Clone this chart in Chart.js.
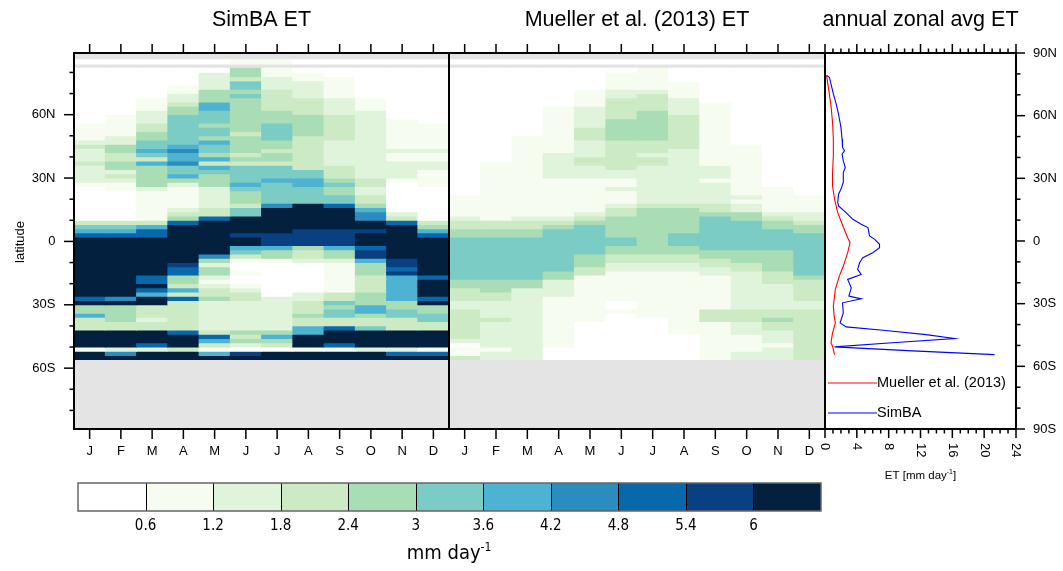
<!DOCTYPE html>
<html>
<head>
<meta charset="utf-8">
<title>SimBA ET vs Mueller et al. (2013) ET</title>
<script src="https://cdn.jsdelivr.net/npm/chart.js@4.4.1/dist/chart.umd.min.js"></script>
<style>
  html, body { margin: 0; padding: 0; background: #fff; }
  #fig { position: relative; width: 1063px; height: 571px; }
  #fig canvas { position: absolute; left: 0; top: 0; }
</style>
</head>
<body>
<div id="fig">
  <canvas id="simba" width="1063" height="571"></canvas>
  <canvas id="mueller" width="1063" height="571"></canvas>
  <canvas id="zonal" width="1063" height="571"></canvas>
  <canvas id="colorbar" width="1063" height="571"></canvas>
</div>
<script>
// ET maps (mm/day) per month and 2-degree latitude row, plus annual zonal means

const FONT = '"Liberation Sans", Arial, sans-serif';
const NARROW = '"Liberation Sans Narrow", "DejaVu Sans Condensed", sans-serif';
const W = 1063, H = 571;

const months = ['J', 'F', 'M', 'A', 'M', 'J', 'J', 'A', 'S', 'O', 'N', 'D'];

// northern edge of each latitude row (rows are 2 degrees tall)
const latNorth = [86, 84, 82, 80, 78, 76, 74, 72, 70, 68, 66, 64, 62, 60, 58, 56, 54, 52, 50, 48,
  46, 44, 42, 40, 38, 36, 34, 32, 30, 28, 26, 24, 22, 20, 18, 16, 14, 12, 10, 8, 6, 4, 2, 0,
  -2, -4, -6, -8, -10, -12, -14, -16, -18, -20, -22, -24, -26, -28, -30, -32, -34, -36, -38,
  -40, -42, -44, -46, -48, -50, -52, -54];

const levels = [0.6, 1.2, 1.8, 2.4, 3, 3.6, 4.2, 4.8, 5.4, 6];
const palette = ['#ffffff', '#f7fcf0', '#e0f3db', '#ccebc5', '#a8ddb5', '#7bccc4',
  '#4eb3d3', '#2b8cbe', '#0868ac', '#084081', '#03203f'];

// SimBA ET, one list per month, rows from 86N to 56S (null = no data)
const simbaET = [
  [0.3, null, 0.3, 0.3, 0.3, 0.3, 0.3, 0.3, 0.3, 0.3, 0.3, 0.3, 0.3, 0.3, 0.3,
   0.9, 0.9, 0.9, 0.9, 1.5, 2.1, 1.5, 1.5, 1.5, 2.1, 1.5, 1.5, 1.5, 1.5, 0.9,
   0.3, 0.3, 0.3, 0.3, 0.3, 0.3, 0.3, 0.3, 2.1, 3.3, 3.9, 5.1, 7,
   7, 7, 7, 7, 7, 7, 7, 7, 7, 7, 7, 7, 7,
   5.1, 7, 2.7, 2.7, 3.9, 2.1, 2.1, 2.1, 7, 7, 7, 7, 0.9, 7, 7],
  [0.3, null, 0.3, 0.3, 0.3, 0.3, 0.3, 0.3, 0.3, 0.3, 0.3, 0.3, 0.3, 0.9, 0.9,
   0.9, 0.9, 0.9, 1.5, 1.5, 2.7, 2.7, 2.1, 2.1, 2.7, 2.7, 1.5, 2.1, 1.5, 0.9,
   0.9, 0.3, 0.3, 0.3, 0.3, 0.3, 0.3, 0.3, 2.1, 3.3, 3.9, 5.1, 7,
   7, 7, 7, 7, 7, 7, 7, 7, 7, 7, 7, 7, 7,
   4.5, 7, 2.7, 2.7, 2.7, 2.7, 2.1, 2.1, 7, 7, 7, 7, 1.5, 4.5, 7],
  [0.3, null, 0.3, 0.3, 0.3, 0.3, 0.3, 0.3, 0.3, 0.9, 0.9, 0.9, 1.5, 1.5, 1.5,
   2.1, 2.1, 2.7, 2.7, 3.3, 3.3, 3.9, 3.3, 2.1, 3.9, 2.7, 2.7, 2.7, 2.7, 2.7,
   1.5, 0.9, 0.9, 0.9, 0.9, 0.9, 0.9, 0.9, 2.1, 3.9, 5.1, 5.1, 7,
   7, 7, 7, 7, 7, 7, 7, 7, 5.1, 5.1, 7, 5.1, 3.9,
   7, 7, 2.1, 2.1, 2.1, 1.5, 2.1, 2.1, 7, 7, 7, 5.1, 1.5, 7, 7],
  [0.3, null, 0.3, 0.3, 0.3, 0.3, 0.9, 0.9, 1.5, 1.5, 2.1, 2.7, 2.7, 3.3, 3.3,
   3.3, 3.3, 3.3, 3.3, 3.3, 3.9, 4.5, 3.9, 3.9, 4.5, 3.3, 3.3, 3.9, 2.7, 1.5,
   0.9, 0.9, 0.9, 0.9, 0.9, 1.5, 2.1, 2.7, 5.1, 7, 7, 7, 7,
   7, 7, 7, 7, 7, 5.7, 5.1, 5.1, 2.7, 2.7, 2.1, 3.9, 2.1,
   5.1, 2.1, 2.1, 2.1, 2.1, 2.1, 2.1, 2.1, 5.1, 7, 7, 7, 2.1, 7, 7],
  [0.3, null, 0.3, 1.5, 1.5, 1.5, 1.5, 2.7, 2.7, 2.7, 3.9, 3.9, 3.3, 3.3, 3.3,
   2.7, 3.3, 3.3, 2.7, 3.9, 3.3, 3.3, 2.7, 3.9, 2.1, 3.9, 3.3, 2.7, 2.7, 2.7,
   1.5, 1.5, 1.5, 1.5, 1.5, 2.1, 2.1, 5.1, 7, 7, 7, 7, 7,
   7, 7, 7, 4.5, 2.7, 1.5, 2.7, 2.7, 1.5, 0.9, 1.5, 2.1, 2.1,
   2.7, 1.5, 1.5, 1.5, 1.5, 1.5, 1.5, 1.5, 2.1, 5.1, 3.9, 2.1, 0.9, 3.9, 7],
  [0.9, null, 2.7, 2.7, 2.1, 3.3, 3.3, 2.7, 3.3, 2.7, 2.7, 2.7, 2.7, 2.7, 2.7,
   2.7, 2.7, 2.1, 2.7, 2.7, 2.7, 2.7, 2.1, 2.7, 2.1, 3.3, 3.3, 3.3, 3.3, 3.9,
   3.3, 2.7, 2.7, 2.7, 2.1, 3.3, 3.3, 7, 7, 7, 7, 5.7, 7,
   7, 3.9, 3.3, 2.1, 0.9, 0.3, 0.3, 0.9, 0.3, 0.3, 0.9, 1.5, 2.1,
   2.1, 1.5, 1.5, 1.5, 1.5, 1.5, 1.5, 1.5, 2.7, 2.1, 2.7, 1.5, 0.3, 5.7, 7],
  [0.9, null, 0.9, 0.9, 1.5, 1.5, 1.5, 2.1, 2.1, 2.1, 2.1, 2.1, 2.7, 2.7, 2.7,
   3.3, 3.3, 3.3, 3.3, 2.7, 2.7, 2.1, 2.7, 2.7, 2.1, 3.3, 3.3, 3.3, 3.9, 3.3,
   3.3, 3.3, 3.3, 3.3, 4.5, 7, 7, 7, 7, 7, 7, 5.7, 5.7,
   5.7, 3.9, 2.7, 2.7, 0.9, 0.3, 0.3, 0.3, 0.3, 0.3, 0.3, 0.3, 0.3,
   1.5, 1.5, 1.5, 1.5, 1.5, 1.5, 1.5, 1.5, 2.7, 3.9, 2.7, 2.1, 0.3, 7, 7],
  [0.3, null, 0.3, 0.9, 0.9, 1.5, 1.5, 1.5, 1.5, 2.1, 2.1, 2.1, 2.1, 2.7, 2.7,
   2.7, 2.7, 2.7, 2.1, 2.1, 2.1, 2.1, 2.1, 2.1, 2.1, 2.1, 3.3, 3.3, 3.9, 3.9,
   3.3, 3.3, 3.3, 3.3, 7, 7, 7, 7, 7, 7, 5.7, 5.7, 5.7,
   5.7, 2.7, 2.1, 2.1, 1.5, 0.3, 0.3, 0.3, 0.3, 0.3, 0.3, 0.3, 1.5,
   1.5, 2.1, 2.1, 2.1, 2.7, 2.1, 2.1, 3.9, 3.9, 7, 7, 7, 0.9, 7, 7],
  [0.3, null, 0.3, 0.3, 0.9, 0.9, 0.9, 0.9, 0.9, 1.5, 1.5, 1.5, 1.5, 2.1, 2.1,
   2.1, 2.1, 2.1, 2.1, 1.5, 1.5, 1.5, 1.5, 1.5, 1.5, 2.1, 2.1, 2.1, 2.7, 3.3,
   2.7, 2.7, 3.3, 3.3, 5.1, 7, 7, 7, 7, 7, 5.7, 5.7, 5.7,
   5.7, 3.9, 2.7, 2.7, 1.5, 0.9, 0.9, 0.9, 0.9, 0.9, 0.9, 0.9, 2.1,
   2.1, 3.3, 2.7, 3.3, 3.3, 2.1, 2.1, 5.1, 7, 7, 7, 5.1, 0.9, 7, 7],
  [0.3, null, 0.3, 0.3, 0.3, 0.3, 0.3, 0.3, 0.3, 0.9, 0.9, 0.9, 1.5, 1.5, 1.5,
   1.5, 1.5, 1.5, 1.5, 1.5, 1.5, 1.5, 1.5, 1.5, 1.5, 1.5, 1.5, 1.5, 2.1, 2.1,
   1.5, 1.5, 2.1, 2.1, 2.7, 3.9, 4.5, 4.5, 7, 7, 5.7, 7, 7,
   7, 5.1, 5.7, 5.7, 3.9, 2.7, 2.7, 2.7, 2.1, 2.1, 2.1, 2.1, 2.7,
   2.7, 2.7, 3.9, 3.9, 2.7, 2.1, 2.1, 3.3, 7, 7, 7, 7, 1.5, 7, 7],
  [0.3, null, 0.3, 0.3, 0.3, 0.3, 0.3, 0.3, 0.3, 0.3, 0.3, 0.3, 0.3, 0.3, 0.9,
   0.9, 0.9, 0.9, 0.9, 0.9, 0.9, 1.5, 0.9, 0.9, 1.5, 1.5, 1.5, 1.5, 0.9, 0.3,
   0.3, 0.3, 0.3, 0.3, 0.3, 0.3, 1.5, 2.1, 5.1, 7, 7, 7, 7,
   7, 7, 7, 7, 5.7, 5.7, 5.1, 5.7, 3.9, 3.9, 3.9, 3.9, 3.9,
   3.9, 2.7, 2.7, 3.3, 3.3, 2.1, 2.1, 2.1, 7, 7, 7, 7, 1.5, 5.1, 7],
  [0.3, null, 0.3, 0.3, 0.3, 0.3, 0.3, 0.3, 0.3, 0.3, 0.3, 0.3, 0.3, 0.3, 0.3,
   0.9, 0.9, 0.9, 0.9, 0.9, 0.9, 1.5, 0.9, 0.9, 1.5, 1.5, 0.9, 0.9, 0.9, 0.9,
   0.3, 0.3, 0.3, 0.3, 0.3, 0.3, 0.3, 0.3, 2.1, 2.7, 3.9, 5.1, 7,
   7, 7, 7, 7, 7, 7, 7, 7, 5.1, 7, 7, 7, 7,
   5.1, 7, 2.7, 2.7, 3.3, 3.3, 2.1, 2.1, 7, 7, 7, 7, 0.9, 5.1, 7]
];

// Mueller et al. (2013) ET, same layout
const muellerET = [
  [0.3, null, 0.3, 0.3, 0.3, 0.3, 0.3, 0.3, 0.3, 0.3, 0.3, 0.3, 0.3, 0.3, 0.3,
   0.3, 0.3, 0.3, 0.3, 0.3, 0.3, 0.3, 0.3, 0.3, 0.3, 0.3, 0.3, 0.3, 0.3, 0.3,
   0.3, 0.3, 0.9, 0.9, 0.9, 0.9, 0.9, 1.5, 2.1, 2.1, 2.7, 2.7, 3.3,
   3.3, 3.3, 3.3, 3.3, 3.3, 3.3, 3.3, 3.3, 3.3, 2.7, 2.7, 2.1, 2.1,
   2.1, 1.5, 1.5, 2.1, 2.1, 2.1, 2.1, 2.1, 2.1, 2.1, 1.5, 0.3, 0.9, 0.9, 2.1],
  [0.3, null, 0.3, 0.3, 0.3, 0.3, 0.3, 0.3, 0.3, 0.3, 0.3, 0.3, 0.3, 0.3, 0.3,
   0.3, 0.3, 0.3, 0.3, 0.3, 0.3, 0.3, 0.3, 0.3, 0.9, 0.9, 0.9, 0.9, 0.9, 0.9,
   0.9, 0.9, 0.9, 0.9, 0.9, 0.9, 0.9, 0.9, 2.1, 2.1, 2.7, 2.7, 3.3,
   3.3, 3.3, 3.3, 3.3, 3.3, 3.3, 3.3, 3.3, 3.3, 2.7, 2.7, 2.7, 2.1,
   2.1, 1.5, 1.5, 1.5, 1.5, 2.1, 1.5, 1.5, 1.5, 1.5, 1.5, 1.5, 0.9, 1.5, 1.5],
  [0.3, null, 0.3, 0.3, 0.3, 0.3, 0.3, 0.3, 0.3, 0.3, 0.3, 0.3, 0.3, 0.3, 0.3,
   0.3, 0.3, 0.3, 0.9, 0.9, 0.9, 0.9, 0.9, 0.9, 0.9, 0.9, 0.9, 0.9, 0.9, 0.9,
   0.9, 0.9, 0.9, 0.9, 0.9, 0.9, 0.9, 1.5, 2.1, 2.1, 2.7, 2.7, 3.3,
   3.3, 3.3, 3.3, 3.3, 3.3, 3.3, 3.3, 3.3, 3.3, 2.7, 2.7, 1.5, 1.5,
   1.5, 1.5, 1.5, 1.5, 1.5, 1.5, 1.5, 1.5, 1.5, 1.5, 1.5, 1.5, 1.5, 1.5, 1.5],
  [0.3, null, 0.3, 0.3, 0.3, 0.3, 0.3, 0.3, 0.3, 0.3, 0.3, 0.9, 0.9, 0.9, 0.9,
   0.9, 0.9, 0.9, 0.9, 0.9, 0.9, 0.9, 1.5, 1.5, 1.5, 1.5, 1.5, 1.5, 0.9, 0.9,
   0.9, 0.9, 0.9, 0.9, 0.9, 0.9, 0.9, 1.5, 2.1, 2.7, 3.3, 3.3, 3.3,
   3.3, 3.3, 3.3, 3.3, 3.3, 3.3, 3.3, 2.7, 2.7, 1.5, 1.5, 1.5, 1.5,
   0.9, 0.9, 0.9, 0.9, 0.9, 0.9, 0.9, 0.9, 0.9, 0.9, 0.9, 0.9, 0.3, 0.3, 0.3],
  [0.3, null, 0.3, 0.3, 0.3, 0.3, 0.3, 0.9, 0.9, 0.9, 0.9, 1.5, 1.5, 1.5, 1.5,
   1.5, 2.1, 2.1, 2.1, 1.5, 1.5, 1.5, 1.5, 2.1, 2.1, 1.5, 1.5, 1.5, 0.9, 0.9,
   0.9, 0.9, 0.9, 0.9, 0.9, 0.9, 1.5, 2.1, 2.7, 3.3, 3.3, 3.3, 3.3,
   3.3, 3.3, 3.3, 2.7, 2.7, 2.7, 2.1, 2.1, 0.9, 0.9, 0.9, 0.9, 0.9,
   0.9, 0.9, 0.9, 0.9, 0.9, 0.9, 0.3, 0.3, 0.3, 0.3, 0.3, 0.3, 0.3, 0.3, 0.3],
  [0.3, null, 0.3, 0.9, 0.9, 0.9, 0.9, 1.5, 1.5, 2.1, 2.1, 2.1, 2.1, 2.1, 2.7,
   2.7, 2.7, 2.7, 2.7, 2.1, 2.1, 2.1, 2.1, 2.1, 2.1, 2.1, 1.5, 1.5, 0.9, 0.9,
   1.5, 0.9, 0.9, 0.9, 1.5, 2.1, 2.1, 2.7, 2.7, 2.7, 2.7, 2.7, 3.3,
   3.3, 2.7, 2.7, 2.1, 2.1, 1.5, 1.5, 0.9, 0.9, 0.9, 0.9, 0.9, 0.9,
   0.9, 0.3, 0.3, 0.9, 0.3, 0.3, 0.3, 0.3, 0.3, 0.3, 0.3, 0.3, 0.3, 0.3, 0.3],
  [0.3, null, 0.9, 0.9, 0.9, 0.9, 0.9, 1.5, 2.1, 2.1, 2.1, 2.1, 2.7, 2.7, 2.7,
   2.7, 2.7, 2.7, 2.7, 2.1, 2.1, 2.1, 1.5, 2.1, 2.1, 1.5, 1.5, 1.5, 1.5, 1.5,
   1.5, 1.5, 1.5, 1.5, 2.1, 2.7, 2.7, 2.7, 2.7, 2.7, 2.7, 2.7, 2.7,
   2.7, 2.7, 2.7, 2.1, 2.1, 1.5, 1.5, 0.9, 0.9, 0.9, 0.9, 0.9, 0.9,
   0.9, 0.9, 0.9, 0.9, 0.9, 0.3, 0.3, 0.3, 0.3, 0.3, 0.3, 0.3, 0.3, 0.3, 0.3],
  [0.3, null, 0.3, 0.3, 0.3, 0.9, 0.9, 0.9, 0.9, 1.5, 1.5, 1.5, 1.5, 2.1, 2.1,
   2.1, 2.1, 2.1, 2.1, 2.1, 2.1, 1.5, 1.5, 1.5, 1.5, 1.5, 1.5, 1.5, 1.5, 1.5,
   1.5, 1.5, 1.5, 1.5, 2.1, 2.7, 2.7, 2.7, 2.7, 2.7, 2.7, 3.3, 3.3,
   3.3, 2.7, 2.7, 2.1, 2.1, 1.5, 1.5, 0.9, 0.9, 0.9, 0.9, 0.9, 0.9,
   0.9, 0.9, 0.9, 0.9, 0.9, 0.9, 0.9, 0.9, 0.9, 0.3, 0.3, 0.3, 0.3, 0.3, 0.3],
  [0.3, null, 0.3, 0.3, 0.3, 0.3, 0.3, 0.3, 0.3, 0.3, 0.9, 0.9, 0.9, 0.9, 0.9,
   0.9, 0.9, 0.9, 0.9, 0.9, 0.9, 0.9, 0.9, 0.9, 0.9, 1.5, 1.5, 1.5, 0.9, 1.5,
   1.5, 1.5, 1.5, 1.5, 2.1, 2.1, 2.7, 3.3, 3.3, 3.3, 3.3, 3.3, 3.3,
   3.3, 3.3, 2.7, 2.7, 2.1, 2.1, 1.5, 1.5, 0.9, 0.9, 0.9, 0.9, 0.9,
   0.9, 0.9, 0.9, 2.1, 2.1, 2.1, 0.9, 0.9, 0.9, 0.9, 0.9, 0.9, 0.9, 0.9, 0.9],
  [0.3, null, 0.3, 0.3, 0.3, 0.3, 0.3, 0.3, 0.3, 0.3, 0.3, 0.3, 0.3, 0.3, 0.3,
   0.3, 0.3, 0.3, 0.3, 0.3, 0.9, 0.9, 0.9, 0.9, 0.9, 0.9, 0.9, 0.9, 0.9, 0.9,
   0.9, 0.9, 1.5, 0.9, 1.5, 1.5, 2.7, 2.7, 3.3, 3.3, 3.3, 3.3, 3.3,
   3.3, 3.3, 2.7, 2.7, 2.7, 2.1, 2.1, 1.5, 1.5, 1.5, 1.5, 1.5, 1.5,
   1.5, 1.5, 1.5, 2.1, 2.1, 2.1, 1.5, 1.5, 1.5, 0.9, 0.9, 0.9, 0.9, 1.5, 1.5],
  [0.3, null, 0.3, 0.3, 0.3, 0.3, 0.3, 0.3, 0.3, 0.3, 0.3, 0.3, 0.3, 0.3, 0.3,
   0.3, 0.3, 0.3, 0.3, 0.3, 0.3, 0.3, 0.3, 0.3, 0.3, 0.3, 0.3, 0.3, 0.3, 0.3,
   0.9, 0.9, 0.9, 0.9, 0.9, 0.9, 1.5, 2.1, 2.7, 2.7, 3.3, 3.3, 3.3,
   3.3, 3.3, 2.7, 2.7, 2.7, 2.7, 2.7, 2.1, 2.1, 2.1, 1.5, 1.5, 1.5,
   1.5, 1.5, 1.5, 2.1, 2.1, 2.7, 2.1, 2.1, 1.5, 1.5, 1.5, 0.9, 1.5, 1.5, 1.5],
  [0.3, null, 0.3, 0.3, 0.3, 0.3, 0.3, 0.3, 0.3, 0.3, 0.3, 0.3, 0.3, 0.3, 0.3,
   0.3, 0.3, 0.3, 0.3, 0.3, 0.3, 0.3, 0.3, 0.3, 0.3, 0.3, 0.3, 0.3, 0.3, 0.3,
   0.3, 0.3, 0.9, 0.9, 0.9, 0.9, 1.5, 1.5, 2.1, 2.7, 2.7, 3.3, 3.3,
   3.3, 3.3, 3.3, 3.3, 3.3, 3.3, 3.3, 3.3, 2.7, 2.1, 2.1, 2.1, 2.1,
   2.1, 1.5, 1.5, 2.1, 2.1, 2.1, 2.1, 2.1, 2.1, 2.1, 2.1, 2.1, 2.1, 2.1, 2.1]
];

// annual zonal averages
const simbaZonalLat = [79.2, 78.4, 75.2, 70.4, 65.6, 60.8, 54.4, 48.8, 44.8, 43.2, 41.6, 38.4, 35.2,
  32.8, 28, 24.8, 22.4, 18.4, 16.8, 13.6, 10.4, 8, 6.4, 2.4, 0.8, -1.6, -3.2, -5.6, -8, -10.4,
  -13.6, -16, -18.4, -22.4, -26.4, -27.7, -29.6, -34.4, -39.2, -41.1, -42.7, -44.8, -46.7,
  -48.8, -50.7, -52.6, -54.4];
const simbaZonalET = [0.2, 0.55, 0.75, 1.05, 1.4, 1.7, 2.0, 2.15, 2.2, 2.45, 2.15, 2.3, 2.55,
  2.3, 2.3, 2.0, 1.7, 1.6, 1.7, 2.65, 3.5, 4.55, 5.4, 5.6, 6.25, 6.85, 6.85, 6.0, 4.75, 4.35,
  4.1, 4.55, 2.85, 3.3, 3.0, 4.55, 2.2, 2.3, 1.9, 2.65, 7.3, 12.7, 16.3,
  8.0, 1.2, 11.0, 21.3];
const muellerZonalLat = [79.2, 72.8, 64.8, 56.8, 48.8, 40.8, 32.8, 26.4, 20, 13.6, 7.2, 1.6, -0.8,
  -5.6, -12, -16.8, -23.2, -31.2, -36, -39.2, -44, -48.8, -50.4, -54.4];
const muellerZonalET = [0.2, 0.45, 0.75, 0.95, 1.05, 1.05, 0.95, 0.95, 1.2, 1.6, 2.25, 2.85, 3.15,
  2.85, 2.3, 1.8, 1.3, 1.05, 1.15, 1.3, 0.95, 0.75, 0.95, 1.2];

const etTicks = [0, 4, 8, 12, 16, 20, 24];

function colorFor(v) {
  let k = 0;
  while (k < levels.length && v >= levels[k]) k++;
  return palette[k];
}

function latLabel(lat) {
  if (lat === 0) return '0';
  return Math.abs(lat) + (lat > 0 ? 'N' : 'S');
}

function line(ctx, x1, y1, x2, y2) {
  ctx.beginPath();
  ctx.moveTo(x1, y1);
  ctx.lineTo(x2, y2);
  ctx.stroke();
}

// centred text with superscript pieces, y is the baseline
function richText(ctx, parts, cx, y, size, family) {
  const supSize = Math.round(size * 0.6);
  let total = 0;
  parts.forEach(p => {
    ctx.font = (p.sup ? supSize : size) + 'px ' + family;
    p.w = ctx.measureText(p.t).width;
    total += p.w;
  });
  let x = cx - total / 2;
  ctx.textAlign = 'left';
  ctx.textBaseline = 'alphabetic';
  parts.forEach(p => {
    ctx.font = (p.sup ? supSize : size) + 'px ' + family;
    ctx.fillText(p.t, x, p.sup ? y - size * 0.42 : y);
    x += p.w;
  });
}

const heatDecor = {
  id: 'heatDecor',
  beforeDatasetsDraw(chart) {
    const { ctx, chartArea: a } = chart;
    ctx.save();
    ctx.fillStyle = '#e4e4e4';
    ctx.fillRect(a.left, a.top, a.right - a.left, a.bottom - a.top);
    ctx.restore();
  },
  afterDraw(chart, args, o) {
    const { ctx, chartArea: a, scales: { x, y } } = chart;
    ctx.save();
    ctx.strokeStyle = '#000';
    ctx.fillStyle = '#000';
    ctx.lineWidth = 1.5;
    ctx.font = '13px ' + FONT;
    ctx.textAlign = 'center';
    ctx.textBaseline = 'middle';
    months.forEach((m, i) => {
      const px = x.getPixelForValue(i);
      line(ctx, px, a.top, px, a.top - 9);
      line(ctx, px, a.bottom, px, a.bottom + 10);
      ctx.fillText(m, px, a.bottom + 22);
    });
    if (o.latAxis) {
      ctx.textAlign = 'right';
      for (let lat = -80; lat <= 80; lat += 10) {
        const py = y.getPixelForValue(lat);
        const major = lat % 30 === 0;
        line(ctx, a.left, py, a.left - (major ? 10 : 4.5), py);
        if (major) ctx.fillText(latLabel(lat), a.left - 18.5, py);
      }
      ctx.save();
      ctx.translate(20, (a.top + a.bottom) / 2 + 1);
      ctx.rotate(-Math.PI / 2);
      ctx.textAlign = 'center';
      ctx.fillText('latitude', 0, 0);
      ctx.restore();
    }
    ctx.lineWidth = 2;
    ctx.strokeRect(a.left, a.top, a.right - a.left, a.bottom - a.top);
    ctx.font = '21.5px ' + FONT;
    ctx.textAlign = 'center';
    ctx.textBaseline = 'middle';
    ctx.fillText(o.title, (a.left + a.right) / 2, 20);
    ctx.restore();
  }
};

function heatChart(id, values, area, decor) {
  // one dataset per latitude row, one floating bar per month
  const datasets = latNorth.map((north, r) => ({
    data: months.map((m, mi) => values[mi][r] === null ? null : [north, north - 2]),
    backgroundColor: months.map((m, mi) => values[mi][r] === null ? 'rgba(0,0,0,0)' : colorFor(values[mi][r])),
    borderWidth: 0,
    inflateAmount: 0.4,
    grouped: false,
    barPercentage: 1,
    categoryPercentage: 1
  }));
  return new Chart(document.getElementById(id), {
    type: 'bar',
    data: { labels: months, datasets },
    options: {
      responsive: false,
      animation: false,
      events: [],
      layout: { padding: { left: area.left, right: W - area.right, top: area.top, bottom: H - area.bottom } },
      plugins: { legend: { display: false }, tooltip: { enabled: false }, heatDecor: decor },
      scales: {
        x: { type: 'category', display: false, offset: true },
        y: { type: 'linear', display: false, min: -88.8, max: 89.2 }
      }
    },
    plugins: [heatDecor]
  });
}

heatChart('simba', simbaET, { left: 74, right: 449, top: 53, bottom: 429 },
  { title: 'SimBA ET', latAxis: true });
heatChart('mueller', muellerET, { left: 449, right: 825, top: 53, bottom: 429 },
  { title: 'Mueller et al. (2013) ET', latAxis: false });

const zonalDecor = {
  id: 'zonalDecor',
  afterDraw(chart) {
    const { ctx, chartArea: a, scales: { x, y } } = chart;
    ctx.save();
    ctx.strokeStyle = '#000';
    ctx.fillStyle = '#000';
    ctx.lineWidth = 1.5;
    for (let v = 0; v <= 24; v++) {
      const px = x.getPixelForValue(v);
      const len = v % 4 === 0 ? 9 : 4.5;
      line(ctx, px, a.top, px, a.top - len);
      line(ctx, px, a.bottom, px, a.bottom + len);
    }
    ctx.font = '13px ' + FONT;
    ctx.textAlign = 'left';
    ctx.textBaseline = 'middle';
    for (let lat = -90; lat <= 90; lat += 10) {
      const py = y.getPixelForValue(lat);
      const major = lat % 30 === 0;
      line(ctx, a.right, py, a.right + (major ? 9 : 4.5), py);
      if (major) ctx.fillText(latLabel(lat), a.right + 17, py);
    }
    etTicks.forEach(v => {
      ctx.save();
      ctx.translate(x.getPixelForValue(v), a.bottom + 14);
      ctx.rotate(Math.PI / 2);
      ctx.fillText(String(v), 0, 0);
      ctx.restore();
    });
    ctx.lineWidth = 2;
    ctx.strokeRect(a.left, a.top, a.right - a.left, a.bottom - a.top);

    // legend
    const items = [
      { label: 'Mueller et al. (2013)', color: '#ff0000', y: 383 },
      { label: 'SimBA', color: '#0000ff', y: 413 }
    ];
    ctx.lineWidth = 1.2;
    ctx.font = '14.5px ' + FONT;
    items.forEach(it => {
      ctx.strokeStyle = it.color;
      line(ctx, a.left + 3, it.y, a.left + 52, it.y);
      ctx.fillText(it.label, a.left + 52, it.y);
    });

    ctx.textAlign = 'center';
    ctx.font = '21.5px ' + FONT;
    ctx.fillText('annual zonal avg ET', (a.left + a.right) / 2, 20);
    richText(ctx, [{ t: 'ET [mm day' }, { t: '-1', sup: true }, { t: ']' }],
      (a.left + a.right) / 2, 479, 11.5, FONT);
    ctx.restore();
  }
};

new Chart(document.getElementById('zonal'), {
  type: 'scatter',
  data: {
    datasets: [
      {
        label: 'Mueller et al. (2013)',
        data: muellerZonalET.map((v, i) => ({ x: v, y: muellerZonalLat[i] })),
        showLine: true, borderColor: '#ff0000', borderWidth: 1.1, pointRadius: 0
      },
      {
        label: 'SimBA',
        data: simbaZonalET.map((v, i) => ({ x: v, y: simbaZonalLat[i] })),
        showLine: true, borderColor: '#0000ff', borderWidth: 1.1, pointRadius: 0
      }
    ]
  },
  options: {
    responsive: false,
    animation: false,
    events: [],
    layout: { padding: { left: 825, right: W - 1016, top: 53, bottom: H - 429 } },
    plugins: { legend: { display: false }, tooltip: { enabled: false } },
    scales: {
      x: { type: 'linear', display: false, min: 0, max: 24 },
      y: { type: 'linear', display: false, min: -90, max: 90 }
    }
  },
  plugins: [zonalDecor]
});

const barDecor = {
  id: 'barDecor',
  afterDraw(chart) {
    const { ctx, chartArea: a, scales: { x } } = chart;
    ctx.save();
    ctx.strokeStyle = '#000';
    ctx.lineWidth = 1;
    for (let k = 1; k < palette.length; k++) {
      const px = Math.round(x.getPixelForValue(k)) + 0.5;
      line(ctx, px, a.top, px, a.bottom);
    }
    ctx.strokeStyle = '#666';
    ctx.lineWidth = 1.5;
    ctx.strokeRect(a.left, a.top, a.right - a.left, a.bottom - a.top);
    ctx.fillStyle = '#000';
    ctx.font = '15px ' + NARROW;
    ctx.textAlign = 'center';
    ctx.textBaseline = 'middle';
    levels.forEach((lv, i) => ctx.fillText(String(lv), x.getPixelForValue(i + 1), 526));
    richText(ctx, [{ t: 'mm day' }, { t: '-1', sup: true }], 449, 559, 20, NARROW);
    ctx.restore();
  }
};

new Chart(document.getElementById('colorbar'), {
  type: 'bar',
  data: {
    labels: ['ET'],
    datasets: palette.map((c, k) => ({
      data: [[k, k + 1]],
      backgroundColor: c,
      borderWidth: 0,
      grouped: false,
      barPercentage: 1,
      categoryPercentage: 1
    }))
  },
  options: {
    indexAxis: 'y',
    responsive: false,
    animation: false,
    events: [],
    layout: { padding: { left: 78, right: W - 821, top: 483, bottom: H - 511 } },
    plugins: { legend: { display: false }, tooltip: { enabled: false } },
    scales: {
      x: { type: 'linear', display: false, min: 0, max: palette.length },
      y: { type: 'category', display: false, offset: true }
    }
  },
  plugins: [barDecor]
});
</script>
</body>
</html>
